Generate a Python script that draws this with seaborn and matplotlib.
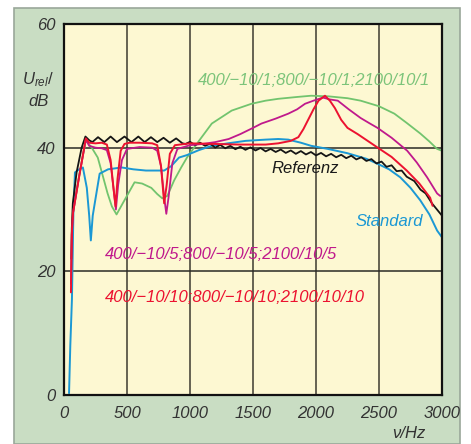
import matplotlib
matplotlib.use('Agg')
import matplotlib.pyplot as plt
from matplotlib.patches import Rectangle
import seaborn as sns

# Referenz (black)
ref_f = [58, 62, 70, 100, 140, 170, 200, 225, 270, 320, 370, 420, 480, 535, 590, 640, 690, 740, 790, 840, 890, 940, 965,
         1000, 1040, 1080, 1120, 1160, 1200, 1240, 1280, 1320, 1360, 1400, 1440, 1480, 1520, 1560, 1600, 1640, 1680,
         1720, 1760, 1800, 1840, 1880, 1920, 1960, 2000, 2040, 2080, 2120, 2160, 2200, 2240, 2280, 2320, 2360, 2400,
         2440, 2480, 2520, 2560, 2600, 2640, 2680, 2720, 2780, 2830, 2870, 2920, 2960, 3000]
ref_db = [22, 27, 31, 36, 40, 41.8, 41.2, 40.9, 41.7, 40.9, 41.8, 40.9, 41.8, 40.9, 41.8, 40.9, 41.7, 40.9, 41.6, 40.8,
          41.5, 40.7, 40.6,
          40.95, 40.4, 40.8, 40.3, 40.65, 40.0, 40.45, 39.9, 40.3, 39.75, 40.15, 39.65, 40.05, 39.55, 39.95, 39.4, 39.8,
          39.3, 39.7, 39.15, 39.55, 39.0, 39.45, 38.9, 39.3, 38.75, 39.15, 38.6, 39.0, 38.45, 38.85, 38.3, 38.7, 38.1,
          38.45, 37.85, 38.15, 37.45, 37.75, 36.9, 37.15, 36.2, 36.3, 35.3, 34.6, 33.2, 32.6, 31.0, 30.0, 29.0]

# Standard (blue)
std_f = [40, 50, 63, 75, 87, 120, 150, 181, 200, 213, 228, 244, 283, 350, 457, 550, 650, 717, 795, 850, 913, 976, 1070,
         1173, 1300, 1441, 1600, 1700, 1780, 1880, 1961, 2094, 2250, 2400, 2488, 2580, 2669, 2750, 2827, 2900, 2961, 3000]
std_db = [0.3, 8, 15.5, 30, 36, 36.5, 36.8, 33.5, 29, 25, 29, 31, 35.8, 36.5, 36.8, 36.5, 36.3, 36.3, 36.3, 37, 38.4,
          38.8, 39.6, 40.3, 40.7, 41.1, 41.3, 41.4, 41.3, 40.8, 40.3, 39.8, 39.1, 38.2, 37.4, 36.5, 35.2, 33.5, 31.5,
          29.2, 26.6, 25.5]

# 400/-10/1;800/-10/1;2100/10/1 (green)
g1_f = [58, 64, 72, 120, 173, 220, 268, 346, 380, 417, 480, 560, 620, 693, 740, 780, 820, 874, 930, 976, 1071, 1173,
        1331, 1488, 1600, 1700, 1850, 1961, 2100, 2250, 2354, 2500, 2622, 2720, 2827, 2900, 2961, 3000]
g1_db = [18, 26, 29.5, 35.5, 41.2, 40, 38.4, 32.6, 30.5, 29.2, 31.5, 34.4, 34.2, 33.5, 32.5, 31.8, 32.2, 34.7, 36.8,
         38.4, 41.1, 43.9, 46, 47.1, 47.6, 47.9, 48.2, 48.4, 48.3, 48.0, 47.6, 46.7, 45.5, 44.0, 42.3, 41.0, 39.8, 39.5]

# 400/-10/5;800/-10/5;2100/10/5 (magenta)
g5_f = [55, 62, 71, 120, 173, 200, 250, 300, 340, 370, 395, 412, 430, 460, 500, 600, 700, 740, 770, 795, 812, 830,
        860, 900, 1000, 1100, 1200, 1307, 1400, 1500, 1567, 1680, 1780, 1850, 1913, 1980, 2055, 2110, 2173, 2260,
        2354, 2420, 2488, 2600, 2724, 2800, 2882, 2961, 2985]
g5_db = [18, 26, 29.4, 35.3, 41.3, 40.3, 40, 39.9, 39.6, 37.5, 33, 30, 34, 38, 39.8, 40.1, 40, 39.5, 37, 32, 29.3,
         32, 37.5, 39.8, 40.4, 40.6, 40.9, 41.4, 42.2, 43.2, 43.9, 44.7, 45.5, 46.2, 47.1, 47.6, 48.1, 47.8, 47.6,
         46.2, 44.8, 44.0, 43.2, 41.6, 39.5, 37.6, 35.2, 32.6, 32.2]

# 400/-10/10;800/-10/10;2100/10/10 (red)
g10_f = [55, 62, 71, 120, 173, 200, 250, 300, 340, 370, 390, 409, 425, 450, 480, 520, 600, 700, 740, 770, 795, 815,
         840, 880, 1000, 1200, 1400, 1600, 1700, 1800, 1860, 1900, 1940, 1980, 2020, 2071, 2110, 2150, 2200, 2250,
         2330, 2410, 2490, 2600, 2720, 2820, 2906, 2925]
g10_db = [16.6, 26, 29.4, 35.3, 41.5, 40.8, 40.7, 40.8, 40.5, 38, 34, 30.5, 35, 39.5, 40.6, 40.8, 40.8, 40.7, 40.4,
          37, 31, 34, 39, 40.4, 40.7, 40.6, 40.5, 40.5, 40.7, 41.1, 41.7, 43, 44.6, 46.2, 47.6, 48.4, 47.6, 46.4,
          44.5, 43.2, 42.2, 41.1, 40, 38.5, 36.3, 34.2, 31.9, 30.6]

x_ticks = [0, 500, 1000, 1500, 2000, 2500, 3000]
y_ticks = [0, 20, 40, 60]

sns.set_style('white')
plt.rcParams['font.family'] = ['Liberation Sans', 'DejaVu Sans']
plt.rcParams['mathtext.fontset'] = 'custom'
plt.rcParams['mathtext.it'] = 'Liberation Sans:italic'
plt.rcParams['mathtext.rm'] = 'Liberation Sans:italic'

fig = plt.figure(figsize=(4.71, 4.44), dpi=100)
fig.patch.set_facecolor('white')
W, H = 471, 444
fig.patches.append(Rectangle((14 / W, 0), 446 / W, 1 - 8 / H, transform=fig.transFigure,
                             facecolor='#c9ddc3', edgecolor='#9aa79a', lw=1.2, zorder=-10))

ax = fig.add_axes([64 / W, 1 - 395 / H, 378 / W, 371 / H])
ax.set_facecolor('#fdf8d2')

sns.lineplot(x=g1_f, y=g1_db, ax=ax, color='#72c46e', lw=1.3, sort=False, estimator=None)
sns.lineplot(x=std_f, y=std_db, ax=ax, color='#1b98d4', lw=1.4, sort=False, estimator=None)
sns.lineplot(x=ref_f, y=ref_db, ax=ax, color='#151515', lw=1.3, sort=False, estimator=None)
sns.lineplot(x=g5_f, y=g5_db, ax=ax, color='#c0198c', lw=1.3, sort=False, estimator=None)
sns.lineplot(x=g10_f, y=g10_db, ax=ax, color='#ec1230', lw=1.4, sort=False, estimator=None)

ax.set_xlim(0, 3000)
ax.set_ylim(0, 60)
ax.set_xticks(x_ticks)
ax.set_yticks(y_ticks)
for v in x_ticks[1:-1]:
    ax.axvline(v, color='#3c3a30', lw=1.1, zorder=0.5)
for v in y_ticks[1:-1]:
    ax.axhline(v, color='#2a2a25', lw=1.1, zorder=0.5)
for s in ax.spines.values():
    s.set_color('#111111')
    s.set_linewidth(1.6)
ax.tick_params(length=0, labelsize=12, labelcolor='#333333')
ax.tick_params(axis='x', pad=8)
ax.tick_params(axis='y', pad=6)
for lab in ax.get_xticklabels() + ax.get_yticklabels():
    lab.set_fontstyle('italic')

tkw = dict(fontsize=12, style='italic', va='center')
ax.text(1063, 50.8, '400/−10/1;800/−10/1;2100/10/1', color='#7cc47a', ha='left', **tkw)
ax.text(1913, 36.7, 'Referenz', color='#1a1a1a', ha='center', **tkw)
ax.text(2579, 28.1, 'Standard', color='#1b98d4', ha='center', **tkw)
ax.text(325, 22.8, '400/−10/5;800/−10/5;2100/10/5', color='#c0198c', ha='left', **tkw)
ax.text(325, 15.8, '400/−10/10;800/−10/10;2100/10/10', color='#ec1230', ha='left', **tkw)

fig.text(38 / W, 1 - 80 / H, r'$U_{rel}$/', fontsize=12, color='#333333', ha='center', va='center')
fig.text(39 / W, 1 - 101 / H, 'dB', fontsize=12, style='italic', color='#333333', ha='center', va='center')
fig.text(409 / W, 1 - 433 / H, 'ν/Hz', fontsize=12, style='italic', color='#333333', ha='center', va='center')

fig.savefig('out.png', dpi=100)
